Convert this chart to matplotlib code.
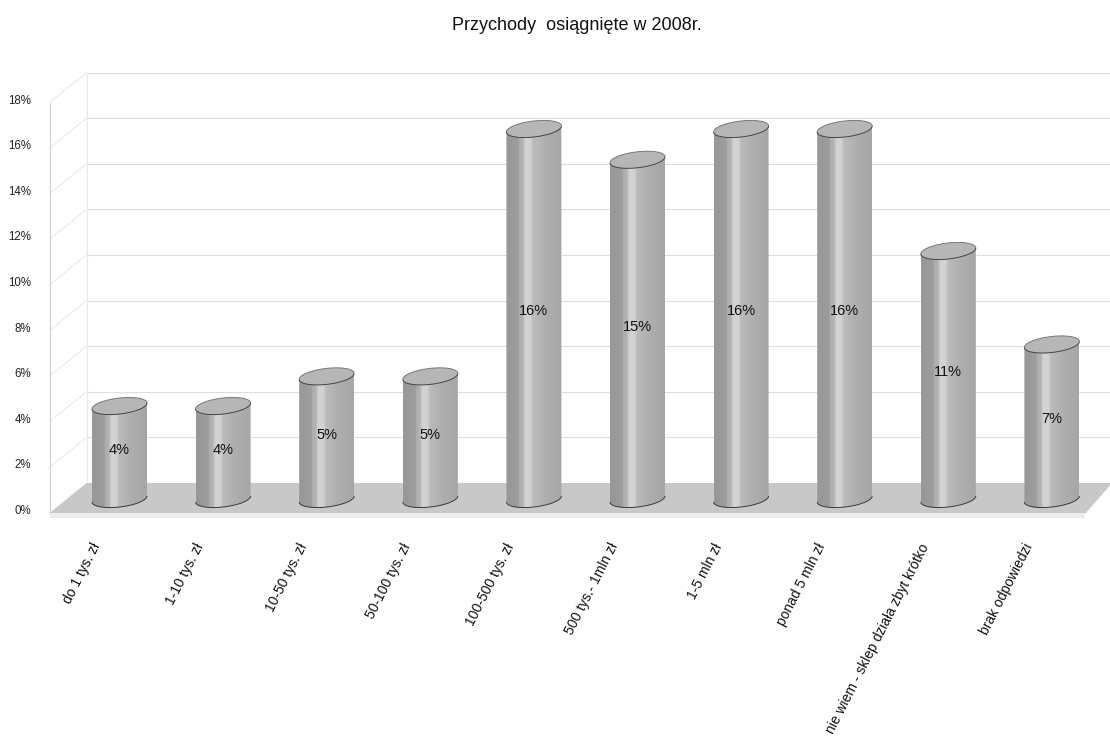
import numpy as np
import matplotlib
matplotlib.use("Agg")
import matplotlib.pyplot as plt
from matplotlib.patches import Polygon, PathPatch
from matplotlib.path import Path

plt.rcParams['font.family'] = ['Liberation Sans', 'DejaVu Sans']

title = "Przychody  osiągnięte w 2008r."
categories = ["do 1 tys. zł", "1-10 tys. zł", "10-50 tys. zł", "50-100 tys. zł",
              "100-500 tys. zł", "500 tys.- 1mln zł", "1-5 mln zł", "ponad 5 mln zł",
              "nie wiem - sklep działa zbyt krótko", "brak odpowiedzi"]
values = [4.1, 4.1, 5.4, 5.4, 16.25, 14.9, 16.25, 16.25, 10.9, 6.8]
ticks = [0, 2, 4, 6, 8, 10, 12, 14, 16, 18]

W, H = 1110, 747
X0, DX = 119.5, 103.6      # pixel centre of the first column, column spacing
Y0, DY = 499.5, 22.8       # pixel height of the column base, pixels per percent

fig = plt.figure(figsize=(W / 100, H / 100), dpi=100, facecolor="white")
ax = fig.add_axes([0, 0, 1, 1])
ax.set_xlim((0 - X0) / DX, (W - X0) / DX)
ax.set_ylim((Y0 - H) / DY, Y0 / DY)
ax.axis("off")

def px(x, y):
    """Pixel position (origin top left) to data coordinates."""
    return (np.asarray(x, float) - X0) / DX, (Y0 - np.asarray(y, float)) / DY

def pline(xs, ys, **kw):
    ax.plot(*px(xs, ys), solid_capstyle="butt", **kw)

def ppoly(pts, **kw):
    xs, ys = zip(*pts)
    ax.add_patch(Polygon(np.column_stack(px(xs, ys)), closed=True, **kw))

# Box geometry: front and back planes are offset from each other
FRONT_X, BACK_X = 49.5, 86.5
FRONT_0, BACK_0 = 513, 483
for t in ticks:
    yf = FRONT_0 - t * DY
    yb = BACK_0 - t * DY
    if t > 0:
        pline([BACK_X, W], [yb, yb], color="#dedede", lw=0.8, zorder=1)
        pline([FRONT_X, BACK_X], [yf, yb], color="#e6e6e6", lw=0.7, zorder=1)
    ax.text(*px(31, yf - 2), f"{t}%", ha="right", va="center", fontsize=8.3,
            color="#222222", zorder=6)
pline([BACK_X, BACK_X], [BACK_0 - 18 * DY, BACK_0], color="#e8e8e8", lw=0.8, zorder=1)
pline([FRONT_X, FRONT_X], [FRONT_0 - 18 * DY, FRONT_0], color="#cfcfcf", lw=0.8, zorder=1)

# Floor slab
ppoly([(FRONT_X, FRONT_0), (BACK_X, BACK_0), (1112, BACK_0), (1085, FRONT_0 + 1)],
      facecolor="#c8c8c8", edgecolor="none", zorder=2)
ppoly([(FRONT_X, FRONT_0), (1085, FRONT_0), (1085, FRONT_0 + 5), (FRONT_X, FRONT_0 + 5)],
      facecolor="#ececec", edgecolor="none", zorder=2)

# Horizontal shading across one cylinder, left to right
shade = np.array([152, 152, 152, 152, 153, 153, 154, 154, 155, 155, 156, 156, 160,
                  172, 174, 176, 178, 186, 200, 208, 210, 210, 210, 209, 208, 200, 192,
                  186, 185, 184, 183, 182, 181, 180, 179, 178, 177, 176, 175, 174, 173, 172,
                  172, 171, 171, 170, 170, 169, 169, 168, 168, 167, 167, 166, 166],
                 dtype=float) / 255
A, B, K = 27.5, 8.0, 3.0   # half width, half depth and tilt of the end ellipses

def ellipse(cx, cy, t):
    return cx + A * np.cos(t), cy + B * np.sin(t) - K * np.cos(t)

for i, (v, name) in enumerate(zip(values, categories)):
    cx = X0 + DX * i
    ytop = Y0 - v * DY
    cap_x, cap_y = ellipse(cx, ytop, np.linspace(0, 2 * np.pi, 120))
    bx, by = ellipse(cx, Y0 - 0.5, np.linspace(0, np.pi, 60))
    tx, ty = ellipse(cx, ytop, np.linspace(np.pi, 2 * np.pi, 60))
    outline = np.column_stack(px(np.r_[bx, tx], np.r_[by, ty]))
    clip = PathPatch(Path(np.vstack([outline, outline[0]])), transform=ax.transData,
                     facecolor="none", edgecolor="none")
    ax.add_patch(clip)

    xl, _ = px(cx - A, 0)
    xr, _ = px(cx + A, 0)
    _, yb = px(0, Y0 + 12)
    _, yt = px(0, ytop - 12)
    img = ax.imshow(shade[np.newaxis, :], cmap="gray", vmin=0, vmax=1, aspect="auto",
                    extent=[xl, xr, yb, yt], zorder=3, interpolation="nearest")
    img.set_clip_path(clip)

    # Top cap: darker on the near edge, lighter on the far edge; then the base edge
    ppoly(list(zip(cap_x, cap_y)), facecolor="#b6b6b6", edgecolor="none", zorder=4)
    far_x, far_y = ellipse(cx, ytop, np.linspace(np.pi, 2 * np.pi, 60))
    near_x, near_y = ellipse(cx, ytop, np.linspace(0, np.pi, 60))
    pline(far_x, far_y, color="#7a7a7a", lw=0.7, zorder=5)
    pline(near_x, near_y, color="#444444", lw=0.7, zorder=5)
    pline(bx, by, color="#3a3a3a", lw=0.7, zorder=4)

    ax.text(*px(cx, (ytop + Y0) / 2 - 3), f"{v:.0f}%", ha="center", va="center",
            fontsize=10.5, color="#111111", zorder=6)
    ax.text(*px(cx - 29, 541), name, rotation=63, rotation_mode="anchor",
            ha="right", va="top", fontsize=10, color="#111111", zorder=6)

ax.text(*px(577, 26), title, ha="center", va="center", fontsize=13, color="#111111")

fig.savefig("out.png", dpi=100, facecolor="white")
